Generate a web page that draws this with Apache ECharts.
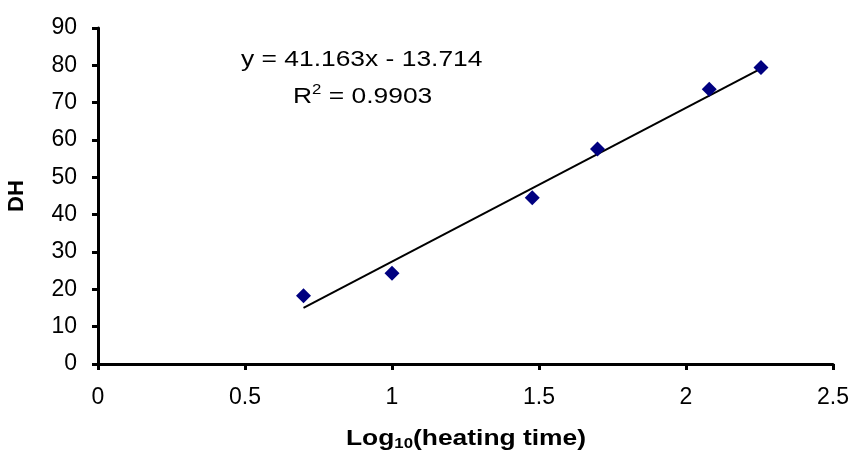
<!DOCTYPE html>
<html>
<head>
<meta charset="utf-8">
<script src="https://cdn.jsdelivr.net/npm/echarts@6/dist/echarts.min.js"></script>
<style>
  html, body { margin: 0; padding: 0; background: #fff; }
  #chart { width: 853px; height: 450px; }
</style>
</head>
<body>
<div id="chart"></div>
<script>
// Log10 of heating time and measured DH
const logTime = [0.699, 1.0, 1.477, 1.699, 2.079, 2.255];
const dhValues = [18.3, 24.3, 44.5, 57.6, 73.6, 79.4];

// Linear trendline coefficients, as printed on the chart
const slope = 41.163;
const intercept = -13.714;
const rSquared = '0.9903';

const xTicks = { min: 0, max: 2.5, interval: 0.5 };
const yTicks = { min: 0, max: 90, interval: 10 };

const FONT = 'Liberation Sans, Arial, sans-serif';
const WIDEN = 1.2; // text in this chart is set slightly extended

const points = logTime.map((x, i) => [x, dhValues[i]]);
const xLo = Math.min(...logTime);
const xHi = Math.max(...logTime);
const trend = [[xLo, slope * xLo + intercept], [xHi, slope * xHi + intercept]];

const chart = echarts.init(document.getElementById('chart'), null, { renderer: 'canvas' });
chart.setOption({
  animation: false,
  backgroundColor: '#ffffff',
  grid: { left: 98, right: 20, top: 28, bottom: 86, containLabel: false, outerBoundsMode: 'none' },
  xAxis: {
    type: 'value',
    min: xTicks.min, max: xTicks.max, interval: xTicks.interval,
    axisLine: { show: true, onZero: false, lineStyle: { color: '#000', width: 3 } },
    axisTick: { show: true, inside: false, length: 6, lineStyle: { color: '#000', width: 3 } },
    splitLine: { show: false },
    axisLabel: { color: '#000', fontFamily: FONT, fontSize: 23, margin: 22 }
  },
  yAxis: {
    type: 'value',
    min: yTicks.min, max: yTicks.max, interval: yTicks.interval,
    axisLine: { show: true, onZero: false, lineStyle: { color: '#000', width: 3 } },
    axisTick: { show: true, inside: false, length: 6, lineStyle: { color: '#000', width: 3 } },
    splitLine: { show: false },
    axisLabel: { color: '#000', fontFamily: FONT, fontSize: 23, margin: 21 },
    name: 'DH',
    nameLocation: 'middle',
    nameGap: 70,
    nameTextStyle: { fontFamily: FONT, fontWeight: 'bold', fontSize: 22, color: '#000' }
  },
  graphic: [
    // trendline equation
    {
      type: 'group', x: 241, y: 59.5, scaleX: WIDEN,
      children: [{
        type: 'text', x: 0, y: 0,
        style: {
          text: 'y = ' + slope + 'x - ' + Math.abs(intercept),
          font: '22px ' + FONT, fill: '#000', align: 'left', verticalAlign: 'middle'
        }
      }]
    },
    // coefficient of determination
    {
      type: 'group', x: 293, y: 96.5, scaleX: WIDEN,
      children: [{
        type: 'text', x: 0, y: 0,
        style: {
          text: '{t|R}{sup|2}{t| = ' + rSquared + '}',
          align: 'left', verticalAlign: 'middle',
          rich: {
            t: { fontFamily: FONT, fontSize: 22, color: '#000' },
            sup: { fontFamily: FONT, fontSize: 14, color: '#000', padding: [0, 0, 12, 0] }
          }
        }
      }]
    },
    // x-axis title
    {
      type: 'group', x: 466, y: 439, scaleX: WIDEN,
      children: [{
        type: 'text', x: 0, y: 0,
        style: {
          text: '{b|Log}{s|10}{b|(heating time)}',
          align: 'center', verticalAlign: 'middle',
          rich: {
            b: { fontFamily: FONT, fontWeight: 'bold', fontSize: 22, color: '#000' },
            s: { fontFamily: FONT, fontWeight: 'bold', fontSize: 14, color: '#000', padding: [10, 0, 0, 0] }
          }
        }
      }]
    }
  ],
  series: [
    {
      type: 'line',
      data: trend,
      symbol: 'none',
      lineStyle: { color: '#000', width: 2 },
      z: 2
    },
    {
      type: 'scatter',
      data: points,
      symbol: 'diamond',
      symbolSize: [15, 15],
      itemStyle: { color: '#000080', opacity: 1 },
      z: 3
    }
  ]
});
</script>
</body>
</html>
